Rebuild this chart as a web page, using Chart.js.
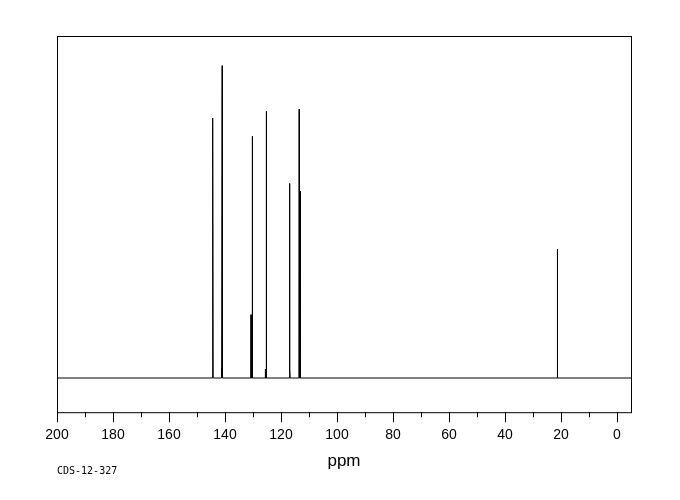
<!DOCTYPE html>
<html>
<head>
<meta charset="utf-8">
<script src="https://cdn.jsdelivr.net/npm/chart.js@4"></script>
<style>
  body { margin: 0; background: #fff; }
  #spectrum { display: block; }
</style>
</head>
<body>
<canvas id="spectrum" width="680" height="500"></canvas>
<script>
// --- DATA ---
const peakPpm = [144.5, 144.3, 141.3, 141.0, 130.7, 130.25, 125.6, 125.25, 117.0, 116.8, 113.5, 113.1, 21.3];
const peakHeight = [3.8, 76.0, 2.9, 91.3, 18.5, 70.7, 2.6, 78.0, 56.9, 2.9, 78.6, 54.6, 37.7];
const majorTicks = [200, 180, 160, 140, 120, 100, 80, 60, 40, 20, 0];
const minorTicks = [190, 170, 150, 130, 110, 90, 70, 50, 30, 10];
const axisTitle = 'ppm';
const sampleCode = 'CDS-12-327';

const ppmMin = -5, ppmMax = 200;
const halfWidth = 0.08;

// stick spectrum: baseline with a narrow spike at each peak
function buildSpectrum() {
    const pts = [{ x: ppmMax, y: 0 }];
    peakPpm.forEach((p, i) => {
        pts.push({ x: p + halfWidth, y: 0 });
        pts.push({ x: p, y: peakHeight[i] });
        pts.push({ x: p - halfWidth, y: 0 });
    });
    pts.push({ x: ppmMin, y: 0 });
    return pts;
}

// frame, tick marks, axis title and the sample code
const framePlugin = {
    id: 'frame',
    afterDraw(chart) {
        const { ctx, chartArea: a } = chart;
        const xs = chart.scales.x;
        ctx.save();
        ctx.strokeStyle = '#000';
        ctx.lineWidth = 1;
        ctx.strokeRect(a.left + 0.5, a.top + 0.5, a.right - a.left, a.bottom - a.top);
        ctx.beginPath();
        majorTicks.forEach(v => {
            const px = Math.round(xs.getPixelForValue(v)) + 0.5;
            ctx.moveTo(px, a.bottom);
            ctx.lineTo(px, a.bottom + 10);
        });
        minorTicks.forEach(v => {
            const px = Math.round(xs.getPixelForValue(v)) + 0.5;
            ctx.moveTo(px, a.bottom);
            ctx.lineTo(px, a.bottom + 5);
        });
        ctx.stroke();
        ctx.fillStyle = '#000';
        ctx.textBaseline = 'alphabetic';
        ctx.font = '17px "Liberation Sans"';
        ctx.textAlign = 'center';
        ctx.fillText(axisTitle, (a.left + a.right) / 2, a.bottom + 54);
        ctx.font = '10px "DejaVu Sans Mono"';
        ctx.textAlign = 'left';
        ctx.fillText(sampleCode, a.left, a.bottom + 62);
        ctx.restore();
    }
};

new Chart(document.getElementById('spectrum'), {
    type: 'line',
    data: {
        datasets: [{
            data: buildSpectrum(),
            borderColor: '#000',
            borderWidth: 1,
            pointRadius: 0,
            tension: 0,
            fill: false
        }]
    },
    options: {
        responsive: false,
        animation: false,
        layout: { padding: { left: 57, right: 49, top: 36, bottom: 41 } },
        plugins: { legend: { display: false }, tooltip: { enabled: false } },
        scales: {
            x: {
                type: 'linear',
                reverse: true,
                min: ppmMin,
                max: ppmMax,
                afterBuildTicks: axis => { axis.ticks = majorTicks.map(v => ({ value: v })); },
                grid: { display: false, drawTicks: false, tickLength: 0 },
                border: { display: false },
                ticks: {
                    color: '#000',
                    padding: 15,
                    maxRotation: 0,
                    autoSkip: false,
                    font: { family: '"Liberation Sans"', size: 14 }
                }
            },
            y: {
                display: false,
                min: -10,
                max: 100
            }
        }
    },
    plugins: [framePlugin]
});
</script>
</body>
</html>
